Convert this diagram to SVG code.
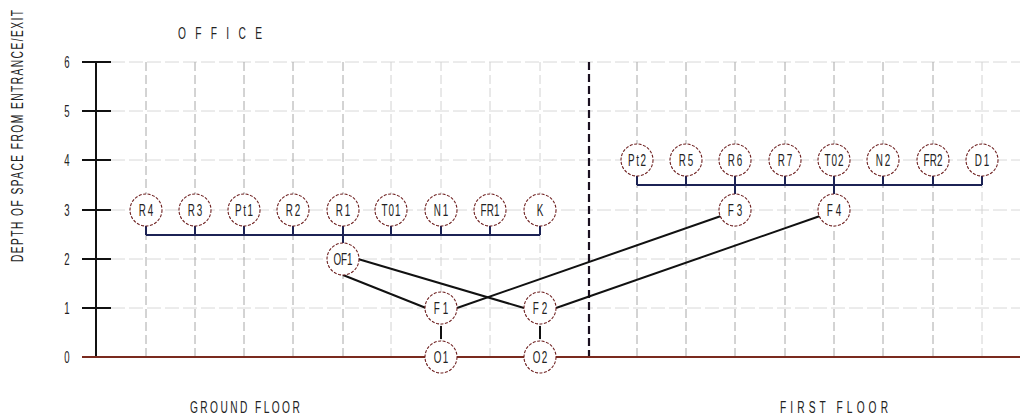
<svg xmlns="http://www.w3.org/2000/svg" width="1020" height="415" viewBox="0 0 1020 415">
<style>
.t{font-family:"Liberation Sans","DejaVu Sans",sans-serif;fill:#222;}
.lbl{font-size:16.5px;text-anchor:middle;}
.tk{font-size:16px;text-anchor:middle;}
.big{font-size:17px;}
.hg{stroke:#d8d8d8;stroke-width:1;stroke-dasharray:14 4;fill:none;}
.vg{stroke:#a8a8a8;stroke-width:1;stroke-dasharray:9 4;fill:none;}
.vgl{stroke:#d2d2d2;stroke-width:1;stroke-dasharray:9 4;fill:none;}
.ax{stroke:#111;stroke-width:2;fill:none;}
.bar{stroke:#1c2355;stroke-width:2;fill:none;}
.con{stroke:#111;stroke-width:2;fill:none;}
.nd circle{fill:#fff;stroke:#6e2020;stroke-width:1.1;stroke-dasharray:3 1.5;}
</style>
<g id="grid">
<line class="hg" x1="111" y1="62" x2="1020" y2="62"/>
<line class="hg" x1="111" y1="111" x2="1020" y2="111"/>
<line class="hg" x1="111" y1="160" x2="1020" y2="160"/>
<line class="hg" x1="111" y1="210" x2="1020" y2="210"/>
<line class="hg" x1="111" y1="259" x2="1020" y2="259"/>
<line class="hg" x1="111" y1="308" x2="1020" y2="308"/>
<line class="vg" x1="146" y1="62" x2="146" y2="357"/>
<line class="vg" x1="195" y1="62" x2="195" y2="357"/>
<line class="vg" x1="244" y1="62" x2="244" y2="357"/>
<line class="vg" x1="293" y1="62" x2="293" y2="357"/>
<line class="vg" x1="343" y1="62" x2="343" y2="357"/>
<line class="vgl" x1="391" y1="62" x2="391" y2="357"/>
<line class="vgl" x1="441" y1="62" x2="441" y2="357"/>
<line class="vgl" x1="490" y1="62" x2="490" y2="357"/>
<line class="vgl" x1="540" y1="62" x2="540" y2="357"/>
<line class="vg" x1="637" y1="62" x2="637" y2="357"/>
<line class="vg" x1="686" y1="62" x2="686" y2="357"/>
<line class="vg" x1="735" y1="62" x2="735" y2="357"/>
<line class="vg" x1="785" y1="62" x2="785" y2="357"/>
<line class="vg" x1="834" y1="62" x2="834" y2="357"/>
<line class="vg" x1="883" y1="62" x2="883" y2="357"/>
<line class="vg" x1="933" y1="62" x2="933" y2="357"/>
<line class="vgl" x1="982" y1="62" x2="982" y2="357"/>
<line x1="589" y1="62" x2="589" y2="357" stroke="#1a1020" stroke-width="2.2" stroke-dasharray="8 4"/>
</g>
<g id="axis">
<line class="ax" x1="96" y1="62" x2="96" y2="357"/>
<line class="ax" x1="82" y1="62" x2="111" y2="62"/>
<line class="ax" x1="82" y1="111" x2="111" y2="111"/>
<line class="ax" x1="82" y1="160" x2="111" y2="160"/>
<line class="ax" x1="82" y1="210" x2="111" y2="210"/>
<line class="ax" x1="82" y1="259" x2="111" y2="259"/>
<line class="ax" x1="82" y1="308" x2="111" y2="308"/>
<line x1="82" y1="357" x2="1020" y2="357" stroke="#7a2a1e" stroke-width="2"/>
<text class="t tk" transform="translate(67,67.5) scale(0.6,1)">6</text>
<text class="t tk" transform="translate(67,116.5) scale(0.6,1)">5</text>
<text class="t tk" transform="translate(67,165.5) scale(0.6,1)">4</text>
<text class="t tk" transform="translate(67,215.5) scale(0.6,1)">3</text>
<text class="t tk" transform="translate(67,264.5) scale(0.6,1)">2</text>
<text class="t tk" transform="translate(67,313.5) scale(0.6,1)">1</text>
<text class="t tk" transform="translate(67,362.5) scale(0.6,1)">0</text>
<text class="t big" transform="translate(23,262) rotate(-90) scale(0.6,1)" textLength="420" lengthAdjust="spacing">DEPTH OF SPACE FROM ENTRANCE/EXIT</text>
<text class="t big" transform="translate(178,39) scale(0.6,1)" textLength="140" lengthAdjust="spacing">OFFICE</text>
<text class="t big" transform="translate(190,413) scale(0.6,1)" textLength="183" lengthAdjust="spacing">GROUND FLOOR</text>
<text class="t big" transform="translate(780,413) scale(0.6,1)" textLength="180" lengthAdjust="spacing">FIRST FLOOR</text>
</g>
<g id="connectors">
<line class="bar" x1="146" y1="235" x2="540" y2="235"/>
<line class="bar" x1="146" y1="226" x2="146" y2="235"/>
<line class="bar" x1="195" y1="226" x2="195" y2="235"/>
<line class="bar" x1="244" y1="226" x2="244" y2="235"/>
<line class="bar" x1="293" y1="226" x2="293" y2="235"/>
<line class="bar" x1="343" y1="226" x2="343" y2="243"/>
<line class="bar" x1="391" y1="226" x2="391" y2="235"/>
<line class="bar" x1="441" y1="226" x2="441" y2="235"/>
<line class="bar" x1="490" y1="226" x2="490" y2="235"/>
<line class="bar" x1="540" y1="226" x2="540" y2="235"/>
<line class="bar" x1="637" y1="185" x2="982" y2="185"/>
<line class="bar" x1="637" y1="176" x2="637" y2="185"/>
<line class="bar" x1="686" y1="176" x2="686" y2="185"/>
<line class="bar" x1="735" y1="176" x2="735" y2="194"/>
<line class="bar" x1="785" y1="176" x2="785" y2="185"/>
<line class="bar" x1="834" y1="176" x2="834" y2="194"/>
<line class="bar" x1="883" y1="176" x2="883" y2="185"/>
<line class="bar" x1="933" y1="176" x2="933" y2="185"/>
<line class="bar" x1="982" y1="176" x2="982" y2="185"/>
<line class="con" x1="343" y1="275" x2="426" y2="308"/>
<line class="con" x1="358" y1="259" x2="524" y2="308"/>
<line class="con" x1="457" y1="308" x2="721" y2="216"/>
<line class="con" x1="556" y1="308" x2="820" y2="216"/>
<line class="con" x1="441" y1="326" x2="441" y2="339"/>
<line class="con" x1="540" y1="326" x2="540" y2="339"/>
</g>
<g class="nd" id="n-R4"><circle cx="146" cy="210" r="16"/><text class="t lbl" transform="translate(146,216) scale(0.6,1)" textLength="24" lengthAdjust="spacing">R4</text></g>
<g class="nd" id="n-R3"><circle cx="195" cy="210" r="16"/><text class="t lbl" transform="translate(195,216) scale(0.6,1)" textLength="24" lengthAdjust="spacing">R3</text></g>
<g class="nd" id="n-Pt1"><circle cx="244" cy="210" r="16"/><text class="t lbl" transform="translate(244,216) scale(0.6,1)" textLength="30" lengthAdjust="spacing">Pt1</text></g>
<g class="nd" id="n-R2"><circle cx="293" cy="210" r="16"/><text class="t lbl" transform="translate(293,216) scale(0.6,1)" textLength="24" lengthAdjust="spacing">R2</text></g>
<g class="nd" id="n-R1"><circle cx="343" cy="210" r="16"/><text class="t lbl" transform="translate(343,216) scale(0.6,1)" textLength="24" lengthAdjust="spacing">R1</text></g>
<g class="nd" id="n-T01"><circle cx="391" cy="210" r="16"/><text class="t lbl" transform="translate(391,216) scale(0.6,1)" textLength="32" lengthAdjust="spacing">T01</text></g>
<g class="nd" id="n-N1"><circle cx="441" cy="210" r="16"/><text class="t lbl" transform="translate(441,216) scale(0.6,1)" textLength="24" lengthAdjust="spacing">N1</text></g>
<g class="nd" id="n-FR1"><circle cx="490" cy="210" r="16"/><text class="t lbl" transform="translate(490,216) scale(0.6,1)" textLength="32" lengthAdjust="spacing">FR1</text></g>
<g class="nd" id="n-K"><circle cx="540" cy="210" r="16"/><text class="t lbl" transform="translate(540,216) scale(0.6,1)">K</text></g>
<g class="nd" id="n-OF1"><circle cx="343" cy="259" r="16"/><text class="t lbl" transform="translate(343,265) scale(0.6,1)" textLength="32" lengthAdjust="spacing">OF1</text></g>
<g class="nd" id="n-F1"><circle cx="441" cy="308" r="16"/><text class="t lbl" transform="translate(441,314) scale(0.6,1)" textLength="24" lengthAdjust="spacing">F1</text></g>
<g class="nd" id="n-F2"><circle cx="540" cy="308" r="16"/><text class="t lbl" transform="translate(540,314) scale(0.6,1)" textLength="24" lengthAdjust="spacing">F2</text></g>
<g class="nd" id="n-O1"><circle cx="441" cy="357" r="16"/><text class="t lbl" transform="translate(441,363) scale(0.6,1)" textLength="24" lengthAdjust="spacing">O1</text></g>
<g class="nd" id="n-O2"><circle cx="540" cy="357" r="16"/><text class="t lbl" transform="translate(540,363) scale(0.6,1)" textLength="24" lengthAdjust="spacing">O2</text></g>
<g class="nd" id="n-Pt2"><circle cx="637" cy="160" r="16"/><text class="t lbl" transform="translate(637,166) scale(0.6,1)" textLength="30" lengthAdjust="spacing">Pt2</text></g>
<g class="nd" id="n-R5"><circle cx="686" cy="160" r="16"/><text class="t lbl" transform="translate(686,166) scale(0.6,1)" textLength="24" lengthAdjust="spacing">R5</text></g>
<g class="nd" id="n-R6"><circle cx="735" cy="160" r="16"/><text class="t lbl" transform="translate(735,166) scale(0.6,1)" textLength="24" lengthAdjust="spacing">R6</text></g>
<g class="nd" id="n-R7"><circle cx="785" cy="160" r="16"/><text class="t lbl" transform="translate(785,166) scale(0.6,1)" textLength="24" lengthAdjust="spacing">R7</text></g>
<g class="nd" id="n-T02"><circle cx="834" cy="160" r="16"/><text class="t lbl" transform="translate(834,166) scale(0.6,1)" textLength="32" lengthAdjust="spacing">T02</text></g>
<g class="nd" id="n-N2"><circle cx="883" cy="160" r="16"/><text class="t lbl" transform="translate(883,166) scale(0.6,1)" textLength="24" lengthAdjust="spacing">N2</text></g>
<g class="nd" id="n-FR2"><circle cx="933" cy="160" r="16"/><text class="t lbl" transform="translate(933,166) scale(0.6,1)" textLength="32" lengthAdjust="spacing">FR2</text></g>
<g class="nd" id="n-D1"><circle cx="982" cy="160" r="16"/><text class="t lbl" transform="translate(982,166) scale(0.6,1)" textLength="24" lengthAdjust="spacing">D1</text></g>
<g class="nd" id="n-F3"><circle cx="735" cy="210" r="16"/><text class="t lbl" transform="translate(735,216) scale(0.6,1)" textLength="24" lengthAdjust="spacing">F3</text></g>
<g class="nd" id="n-F4"><circle cx="834" cy="210" r="16"/><text class="t lbl" transform="translate(834,216) scale(0.6,1)" textLength="24" lengthAdjust="spacing">F4</text></g>
</svg>
